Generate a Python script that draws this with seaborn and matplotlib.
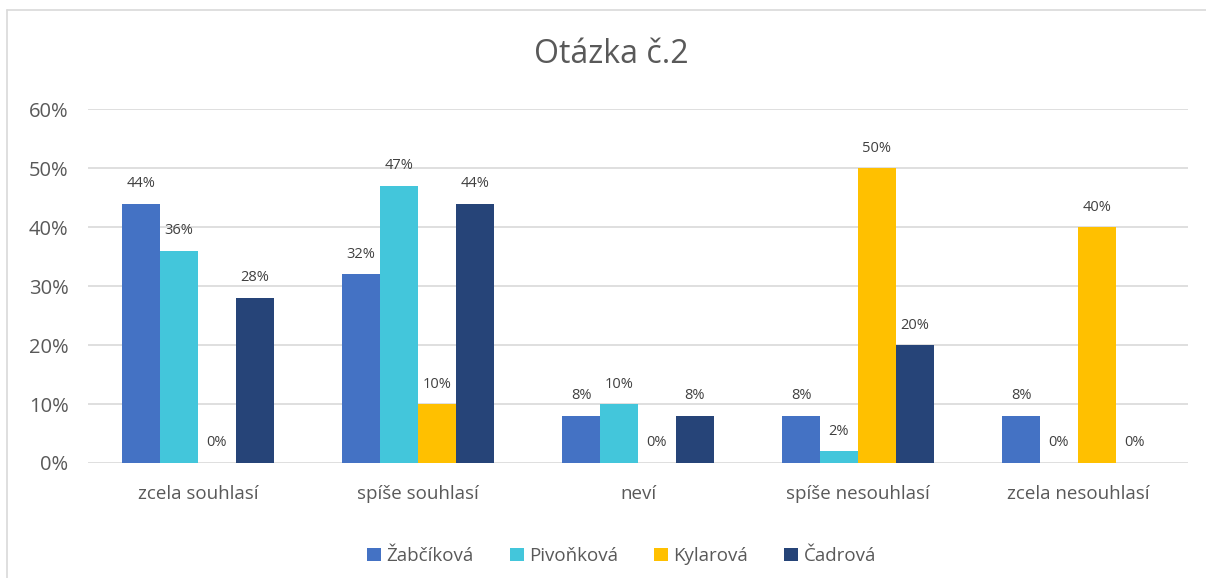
"""Otázka č.2 - grouped bar chart of answers per respondent."""
import matplotlib
matplotlib.use("Agg")
import matplotlib.pyplot as plt
import pandas as pd
import seaborn as sns
from matplotlib.lines import Line2D

categories = ["zcela souhlasí", "spíše souhlasí", "neví", "spíše nesouhlasí", "zcela nesouhlasí"]
series = ["Žabčíková", "Pivoňková", "Kylarová", "Čadrová"]
zabcikova = [44, 32, 8, 8, 8]
pivonkova = [36, 47, 10, 2, 0]
kylarova = [0, 10, 0, 50, 40]
cadrova = [28, 44, 8, 20, 0]
colors = ["#4472C4", "#43C6DB", "#FFC000", "#264478"]

values = [zabcikova, pivonkova, kylarova, cadrova]
df = pd.DataFrame(
    [(c, s, v) for s, vals in zip(series, values) for c, v in zip(categories, vals)],
    columns=["odpoved", "jmeno", "hodnota"],
)

sns.set_style("white")
plt.rcParams["font.family"] = ["Open Sans", "DejaVu Sans"]

fig = plt.figure(figsize=(12.06, 5.78), dpi=100)
ax = fig.add_axes([0.073, 0.199, 0.912, 0.612])

sns.barplot(
    data=df, x="odpoved", y="hodnota", hue="jmeno", order=categories,
    hue_order=series, palette=colors, width=0.69, ax=ax, legend=True,
    saturation=1, linewidth=0,
)

for cont in ax.containers:
    ax.bar_label(cont, labels=[f"{v:.0f}%" for v in cont.datavalues],
                 padding=9, fontsize=10.5, color="#404040")

ax.set_ylim(0, 60)
ax.set_yticks(range(0, 61, 10))
ax.set_yticklabels([f"{t}%" for t in range(0, 61, 10)], fontsize=14.5, color="#595959")
ax.set_xlim(-0.5, len(categories) - 0.5)
ax.tick_params(axis="x", labelsize=13.5, labelcolor="#595959", pad=16, length=0)
ax.tick_params(axis="y", length=0, pad=14)
ax.set_xlabel("")
ax.set_ylabel("")
ax.grid(axis="y", color="#D9D9D9", lw=1.2)
ax.set_axisbelow(True)
for sp in ax.spines.values():
    sp.set_visible(False)

ax.legend(loc="upper center", bbox_to_anchor=(0.485, -0.19), ncol=4, frameon=False,
          fontsize=13.5, handlelength=0.75, handleheight=0.75, handletextpad=0.3,
          columnspacing=1.9, labelcolor="#595959")

fig.text(0.507, 0.905, "Otázka č.2", ha="center", va="center", fontsize=23, color="#595959")

# outer chart frame: only top and left edges are visible in the crop
fig.add_artist(Line2D([0.006, 1.0], [0.983, 0.983], transform=fig.transFigure,
                      color="#D9D9D9", lw=1.2))
fig.add_artist(Line2D([0.006, 0.006], [0.0, 0.983], transform=fig.transFigure,
                      color="#D9D9D9", lw=1.2))

fig.savefig("out.png", dpi=100)
